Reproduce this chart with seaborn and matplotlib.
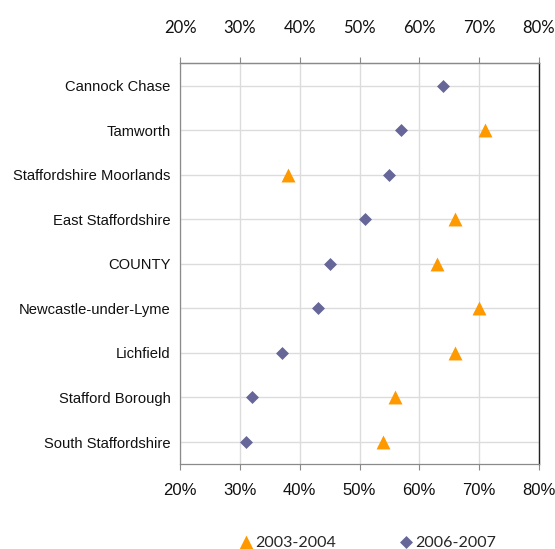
import matplotlib
matplotlib.use("Agg")
import matplotlib.pyplot as plt
from matplotlib.ticker import FuncFormatter
import numpy as np
import pandas as pd
import seaborn as sns

# Districts, listed top to bottom
districts = [
    "Cannock Chase",
    "Tamworth",
    "Staffordshire Moorlands",
    "East Staffordshire",
    "COUNTY",
    "Newcastle-under-Lyme",
    "Lichfield",
    "Stafford Borough",
    "South Staffordshire",
]
# Percentage values per survey period (no 2003-2004 figure for Cannock Chase)
pct_2003_2004 = [np.nan, 71, 38, 66, 63, 70, 66, 56, 54]
pct_2006_2007 = [64, 57, 55, 51, 45, 43, 37, 32, 31]
periods = ["2003-2004", "2006-2007"]
x_ticks = [20, 30, 40, 50, 60, 70, 80]

df = pd.DataFrame({
    "district": districts * 2,
    "period": [periods[0]] * len(districts) + [periods[1]] * len(districts),
    "value": pct_2003_2004 + pct_2006_2007,
})

sns.set_style("white")
plt.rcParams["font.family"] = ["Liberation Sans", "DejaVu Sans"]

fig = plt.figure(figsize=(5.55, 5.49), dpi=100)
ax = fig.add_axes([0.3249, 0.1543, 0.6457, 0.7304])

orange = "#FF9900"
purple = "#666699"

n0 = len(ax.collections)
sns.stripplot(data=df[df["period"] == periods[0]], x="value", y="district",
              order=districts, jitter=False, marker="^", size=10,
              color=orange, linewidth=0, ax=ax, zorder=3)
tri_handle = ax.collections[n0:][-1]
n1 = len(ax.collections)
sns.stripplot(data=df[df["period"] == periods[1]], x="value", y="district",
              order=districts, jitter=False, marker="D", size=6.6,
              color=purple, linewidth=0, ax=ax, zorder=3)
dia_handle = ax.collections[n1:][-1]

ax.set_xlim(20, 80)
ax.set_ylim(len(districts) - 0.5, -0.5)
ax.set_xticks(x_ticks)
ax.xaxis.set_major_formatter(FuncFormatter(lambda v, p: f"{v:.0f}%"))
ax.set_xlabel("")
ax.set_ylabel("")

# Gridlines
ax.grid(True, axis="both", color="#dcdcdc", linewidth=1.0)
ax.set_axisbelow(True)

# Spines
for side in ["left", "top", "bottom"]:
    ax.spines[side].set_color("#8a8a8a")
    ax.spines[side].set_linewidth(0.9)
ax.spines["right"].set_color("#222222")
ax.spines["right"].set_linewidth(1.0)

# Category labels
ax.tick_params(axis="y", length=0, pad=7)
for lab in ax.get_yticklabels():
    lab.set_fontfamily(["Liberation Sans", "DejaVu Sans"])
    lab.set_fontsize(10.6)
    lab.set_color("#111111")

# Bottom percentage axis
ax.tick_params(axis="x", bottom=True, length=4.3, width=0.8, color="#8a8a8a",
               direction="out", pad=9.5, labelsize=12, labelcolor="#111111")

# Top percentage axis
top = ax.secondary_xaxis("top")
top.set_xticks(x_ticks)
top.xaxis.set_major_formatter(FuncFormatter(lambda v, p: f"{v:.0f}%"))
top.tick_params(axis="x", length=4.3, width=0.8, color="#8a8a8a",
                direction="out", pad=15, labelsize=12, labelcolor="#111111")
top.spines["top"].set_color("#8a8a8a")
top.spines["top"].set_linewidth(0.9)
for lab in top.get_xticklabels():
    lab.set_fontfamily(["Lato", "DejaVu Sans"])

# Legend beneath the plot
fig.legend([tri_handle, dia_handle], periods, loc="center",
           bbox_to_anchor=(0.661, 0.012), ncol=2, frameon=False,
           handletextpad=0.1, columnspacing=3.85, handlelength=1.0,
           prop={"family": ["Lato", "DejaVu Sans"], "size": 11.5})

fig.savefig("out.png", dpi=100)
